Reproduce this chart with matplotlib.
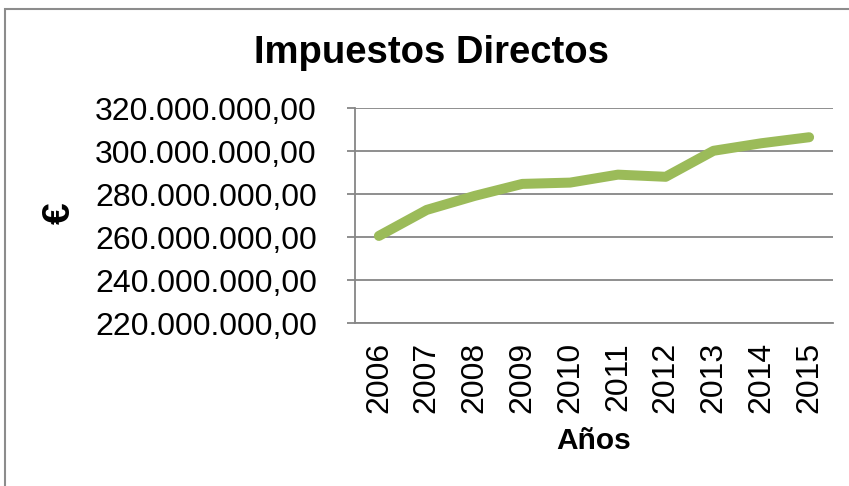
import matplotlib.pyplot as plt
from matplotlib.patches import Rectangle
from matplotlib.ticker import FuncFormatter

# Impuestos Directos, 2006-2015 (valores en euros)
years = ['2006', '2007', '2008', '2009', '2010', '2011', '2012', '2013', '2014', '2015']
values = [260.5e6, 272.6e6, 279.1e6, 284.7e6, 285.3e6, 289.0e6, 288.0e6, 300.1e6, 303.6e6, 306.4e6]
y_ticks = [220e6, 240e6, 260e6, 280e6, 300e6, 320e6]

plt.rcParams['font.family'] = ['Liberation Sans', 'DejaVu Sans']

GRAY = '#868686'
GREEN = '#9BBB59'


def es_format(v, pos=None):
    # 320,000,000.00 -> 320.000.000,00
    s = f'{v:,.2f}'
    return s.replace(',', 'X').replace('.', ',').replace('X', '.')


fig = plt.figure(figsize=(8.49, 4.86), dpi=100)
ax = fig.add_axes([355 / 849, 1 - 323 / 486, (833 - 355) / 849, (323 - 108) / 486])

ax.plot(range(len(years)), values, color=GREEN, linewidth=7.2,
        solid_capstyle='round', solid_joinstyle='round', zorder=3)

ax.set_xlim(-0.5, len(years) - 0.5)
ax.set_ylim(y_ticks[0], y_ticks[-1])
ax.set_yticks(y_ticks)
ax.yaxis.set_major_formatter(FuncFormatter(es_format))
ax.set_xticks(range(len(years)))
ax.set_xticklabels(years, rotation=90)

ax.grid(axis='y', color=GRAY, linewidth=1.3)
ax.set_axisbelow(True)
for side in ['top', 'right']:
    ax.spines[side].set_visible(False)
for side in ['left', 'bottom']:
    ax.spines[side].set_color(GRAY)
    ax.spines[side].set_linewidth(1.3)

ax.tick_params(axis='y', length=6, width=1.3, color=GRAY, pad=21.5, labelsize=23)
ax.tick_params(axis='x', length=0, pad=13.5, labelsize=23)

# title and axis labels
fig.text(432 / 849, 1 - 53 / 486, 'Impuestos Directos', fontsize=27.5,
         fontweight='bold', ha='center', va='center')
fig.text(594 / 849, 1 - 441 / 486, 'Años', fontsize=21.5,
         fontweight='bold', ha='center', va='center')
fig.text(60 / 849, 1 - 213 / 486, '€', fontsize=28, fontweight='bold',
         rotation=90, ha='center', va='center')

# chart area border
fig.patches.append(Rectangle((5 / 849, -0.1), 1.2, 1 - 9 / 486 + 0.1,
                             transform=fig.transFigure, fill=False,
                             edgecolor='#8c8c8c', linewidth=1.5))

fig.savefig('out.png', dpi=100)
